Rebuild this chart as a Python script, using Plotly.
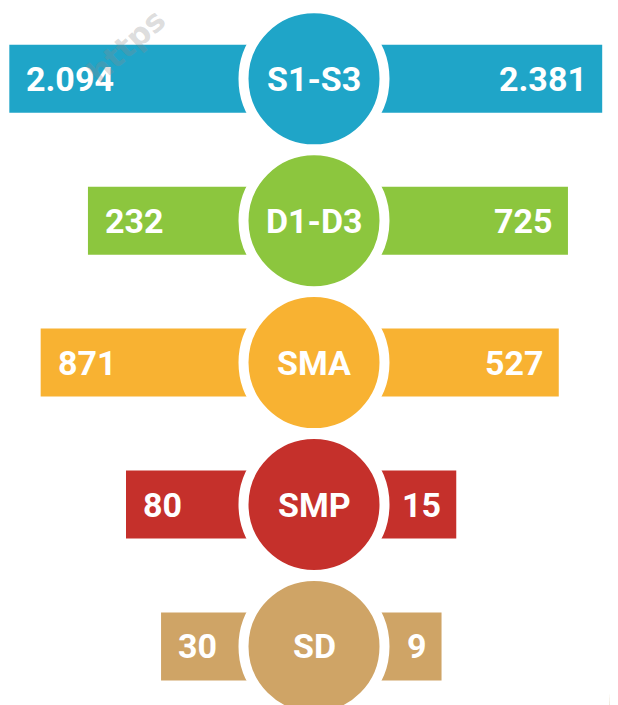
import numpy as np
import plotly.graph_objects as go

# ---- data ----
categories = ["S1-S3", "D1-D3", "SMA", "SMP", "SD"]
left_values = [2094, 232, 871, 80, 30]
right_values = [2381, 725, 527, 15, 9]
colors = ["#1FA5C8", "#8CC63E", "#F8B232", "#C5302B", "#CFA466"]


def fmt(v):
    return f"{v:,}".replace(",", ".")


FONT = "Roboto, sans-serif"
LABEL_FONT = dict(family=FONT, size=34, color="white", weight="bold")
# page body keeps an 8px margin, so the figure is 8px smaller each way
W, H = 610, 697
CX = 306 / W

fig = go.Figure()

fig.add_trace(go.Bar(
    y=categories, x=left_values, orientation="h",
    marker=dict(color=colors, line=dict(width=0)),
    width=0.479, xaxis="x", yaxis="y", hoverinfo="skip", showlegend=False,
))
fig.add_trace(go.Bar(
    y=categories, x=right_values, orientation="h",
    marker=dict(color=colors, line=dict(width=0)),
    width=0.479, xaxis="x2", yaxis="y", hoverinfo="skip", showlegend=False,
))
fig.add_trace(go.Scatter(
    y=categories, x=[0] * len(categories), mode="markers",
    marker=dict(size=141, color=colors, line=dict(color="white", width=10)),
    xaxis="x3", yaxis="y", hoverinfo="skip", showlegend=False, cliponaxis=False,
))

annotations = []
for c in categories:
    annotations.append(dict(
        x=0, y=c, xref="x3", yref="y", text=c, showarrow=False,
        xanchor="center", yanchor="middle", font=LABEL_FONT,
    ))
for c, v in zip(categories, left_values):
    annotations.append(dict(
        x=np.log10(v), y=c, xref="x", yref="y", text=fmt(v), showarrow=False,
        xanchor="left", xshift=15, yanchor="middle", font=LABEL_FONT,
    ))
for c, v in zip(categories, right_values):
    annotations.append(dict(
        x=np.log10(v), y=c, xref="x2", yref="y", text=fmt(v), showarrow=False,
        xanchor="right", xshift=-13, yanchor="middle", font=LABEL_FONT,
    ))
# faint watermark
annotations.append(dict(
    x=118 / W, y=1 - 38 / H, xref="paper", yref="paper", text="https",
    showarrow=False, textangle=-42, xanchor="center", yanchor="middle",
    font=dict(family="DejaVu Sans, sans-serif", size=31, color="rgba(140,140,140,0.30)", weight="bold"),
))

fig.update_layout(
    width=W, height=H,
    margin=dict(l=0, r=0, t=0, b=0),
    paper_bgcolor="white", plot_bgcolor="rgba(0,0,0,0)",
    barmode="overlay",
    xaxis=dict(type="log", domain=[0, CX], range=[3.337, -0.3815], visible=False, fixedrange=True),
    xaxis2=dict(type="log", domain=[CX, 1], range=[-0.969, 3.615], visible=False, fixedrange=True, anchor="y"),
    xaxis3=dict(domain=[0, 1], range=[-306, 304], visible=False, fixedrange=True, anchor="y"),
    yaxis=dict(type="category", categoryorder="array", categoryarray=categories,
               range=[4.413, -0.499], visible=False, fixedrange=True),
    annotations=annotations,
    shapes=[dict(type="line", xref="paper", yref="paper", x0=0.9925, y0=0.18,
                 x1=0.989, y1=0.0, layer="above", line=dict(color="#C09A60", width=3))],
)

fig.write_html("out.html")
